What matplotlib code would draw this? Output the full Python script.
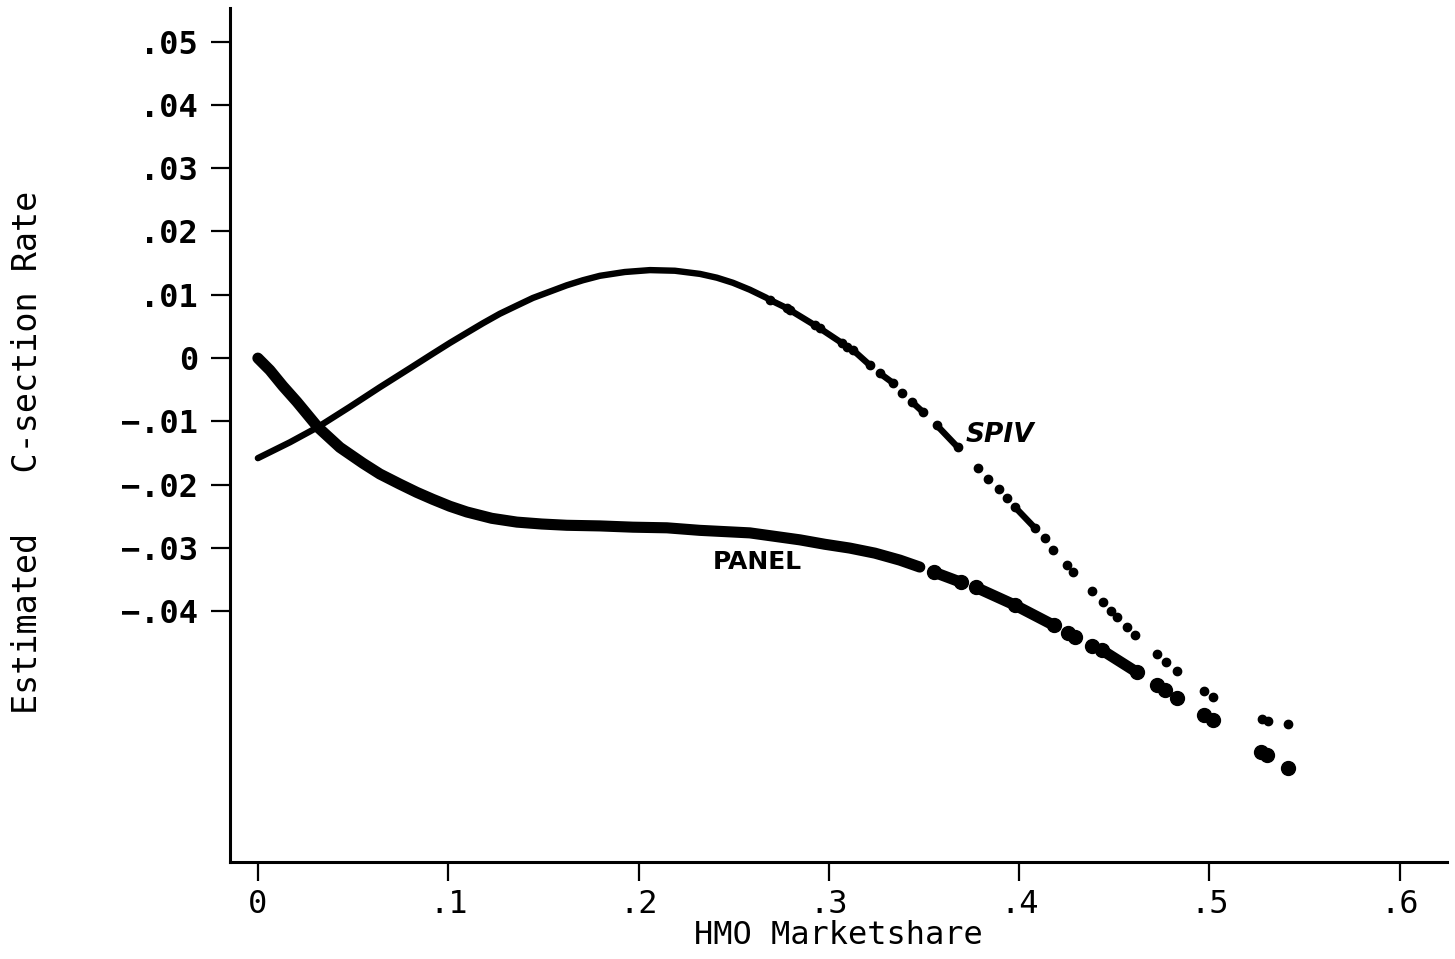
import numpy as np
import matplotlib
matplotlib.use("Agg")
import matplotlib.pyplot as plt

# SPIV estimate: dense (solid) part, then the sparse tail (dashes and dots, None = gap)
spiv_x = [0.000, 0.0168, 0.0315, 0.0483, 0.0641, 0.0799, 0.0919, 0.1009, 0.1098,
          0.1182, 0.1271, 0.1361, 0.1445, 0.1534, 0.1623, 0.1708, 0.1797, 0.1928,
          0.2060, 0.2191, 0.2323, 0.2412, 0.2496, 0.2585, 0.2674]
spiv_y = [-0.0158, -0.0133, -0.0109, -0.0077, -0.0046, -0.0016, 0.0007, 0.0024, 0.0040,
          0.0055, 0.0070, 0.0083, 0.0095, 0.0105, 0.0115, 0.0123, 0.0130, 0.0136,
          0.0139, 0.0138, 0.0133, 0.0127, 0.0119, 0.0108, 0.0095]
spiv_tail_x = [0.2690, 0.2779, None, 0.2795, 0.2926, None, 0.2953, 0.3068, None,
               0.3095, None, 0.3126, 0.3215, None, 0.3268, 0.3336, None, 0.3384, None,
               0.3436, 0.3494, None, 0.3567, 0.3678, None, 0.3783, None, 0.3835, None,
               0.3893, None, 0.3935, None, 0.3977, 0.4082, None, 0.4135, None, 0.4177, None,
               0.4250, None, 0.4282, None, 0.4382, None, 0.4440, None, 0.4482, None,
               0.4513, None, 0.4566, None, 0.4608, None, 0.4723, None, 0.4771, None,
               0.4828, None, 0.4970, None, 0.5018, None, 0.5275, 0.5307, None, 0.5412]
spiv_tail_y = [0.0092, 0.0079, None, 0.0076, 0.0052, None, 0.0047, 0.0024, None,
               0.0017, None, 0.0013, -0.0011, None, -0.0024, -0.0039, None, -0.0055, None,
               -0.0069, -0.0085, None, -0.0106, -0.0141, None, -0.0174, None, -0.0191, None,
               -0.0207, None, -0.0221, None, -0.0235, -0.0268, None, -0.0284, None, -0.0303, None,
               -0.0327, None, -0.0338, None, -0.0368, None, -0.0385, None, -0.0400, None,
               -0.0409, None, -0.0425, None, -0.0437, None, -0.0467, None, -0.0480, None,
               -0.0494, None, -0.0526, None, -0.0535, None, -0.0570, -0.0573, None, -0.0578]

# PANEL estimate
panel_x = [0.000, 0.0063, 0.0131, 0.0205, 0.0315, 0.0431, 0.0552, 0.0641, 0.0746,
           0.0835, 0.0919, 0.1009, 0.1098, 0.1229, 0.1361, 0.1492, 0.1623, 0.1797,
           0.1970, 0.2149, 0.2322, 0.2585, 0.2848, 0.2979, 0.3110, 0.3242, 0.3373, 0.3478]
panel_y = [0.0000, -0.0019, -0.0044, -0.0069, -0.0109, -0.0141, -0.0166, -0.0183, -0.0199,
           -0.0212, -0.0223, -0.0234, -0.0243, -0.0253, -0.0259, -0.0262, -0.0264, -0.0265,
           -0.0267, -0.0268, -0.0272, -0.0276, -0.0287, -0.0294, -0.0300, -0.0308, -0.0319, -0.0330]
panel_tail_x = [0.3552, 0.3694, None, 0.3772, 0.3977, 0.4182, None, 0.4256, None, 0.4293, None,
                0.4382, None, 0.4434, 0.4618, None, 0.4723, None, 0.4765, None, 0.4828, None,
                0.4970, None, 0.5018, None, 0.5270, None, 0.5301, None, 0.5412]
panel_tail_y = [-0.0338, -0.0354, None, -0.0362, -0.0390, -0.0422, None, -0.0434, None, -0.0441, None,
                -0.0455, None, -0.0461, -0.0496, None, -0.0516, None, -0.0524, None, -0.0537, None,
                -0.0564, None, -0.0572, None, -0.0622, None, -0.0627, None, -0.0647]

x_ticks = [0, 0.1, 0.2, 0.3, 0.4, 0.5, 0.6]
x_labels = ["0", ".1", ".2", ".3", ".4", ".5", ".6"]
y_ticks = [0.05, 0.04, 0.03, 0.02, 0.01, 0, -0.01, -0.02, -0.03, -0.04]
y_labels = [".05", ".04", ".03", ".02", ".01", "0", "\u2212.01", "\u2212.02", "\u2212.03", "\u2212.04"]


def to_arr(v):
    return np.array([np.nan if a is None else a for a in v], dtype=float)


fig = plt.figure(figsize=(14.55, 9.59), dpi=100)
ax = fig.add_axes([0.158, 0.101, 0.8365, 0.8907])

# SPIV
ax.plot(spiv_x, spiv_y, color="black", lw=4.6, solid_capstyle="round", solid_joinstyle="round")
ax.plot(to_arr(spiv_tail_x), to_arr(spiv_tail_y), color="black", lw=4.6,
        marker="o", ms=6.0, solid_capstyle="round")

# PANEL
ax.plot(panel_x, panel_y, color="black", lw=8.0, solid_capstyle="round", solid_joinstyle="round")
ax.plot(to_arr(panel_tail_x), to_arr(panel_tail_y), color="black", lw=8.0,
        marker="o", ms=10.0, solid_capstyle="round")

ax.set_xlim(-0.0147, 0.6248)
ax.set_ylim(-0.0796, 0.0553)

for s in ["top", "right"]:
    ax.spines[s].set_visible(False)
for s in ["left", "bottom"]:
    ax.spines[s].set_linewidth(2.2)

ax.set_xticks(x_ticks)
ax.set_xticklabels(x_labels, family="DejaVu Sans Mono", fontsize=23)
ax.set_yticks(y_ticks)
ax.set_yticklabels(y_labels, family="DejaVu Sans Mono", fontsize=23, fontweight="bold")
ax.tick_params(axis="both", direction="out", length=14, width=1.6, color="black")
ax.tick_params(axis="x", pad=5)
ax.tick_params(axis="y", pad=9)

ax.set_xlabel("HMO Marketshare", family="DejaVu Sans Mono", fontsize=23, labelpad=0)
ax.set_ylabel("Estimated   C-section Rate", family="DejaVu Sans Mono", fontsize=24,
              va="center")
ax.yaxis.set_label_coords(-0.1660, 0.48)

ax.text(0.3720, -0.0122, "SPIV", fontsize=19, style="italic", fontweight="bold",
        family="DejaVu Sans", ha="left", va="center")
ax.text(0.2390, -0.0322, "PANEL", fontsize=18, fontweight="bold",
        family="DejaVu Sans", ha="left", va="center")

fig.savefig("out.png", dpi=100)
